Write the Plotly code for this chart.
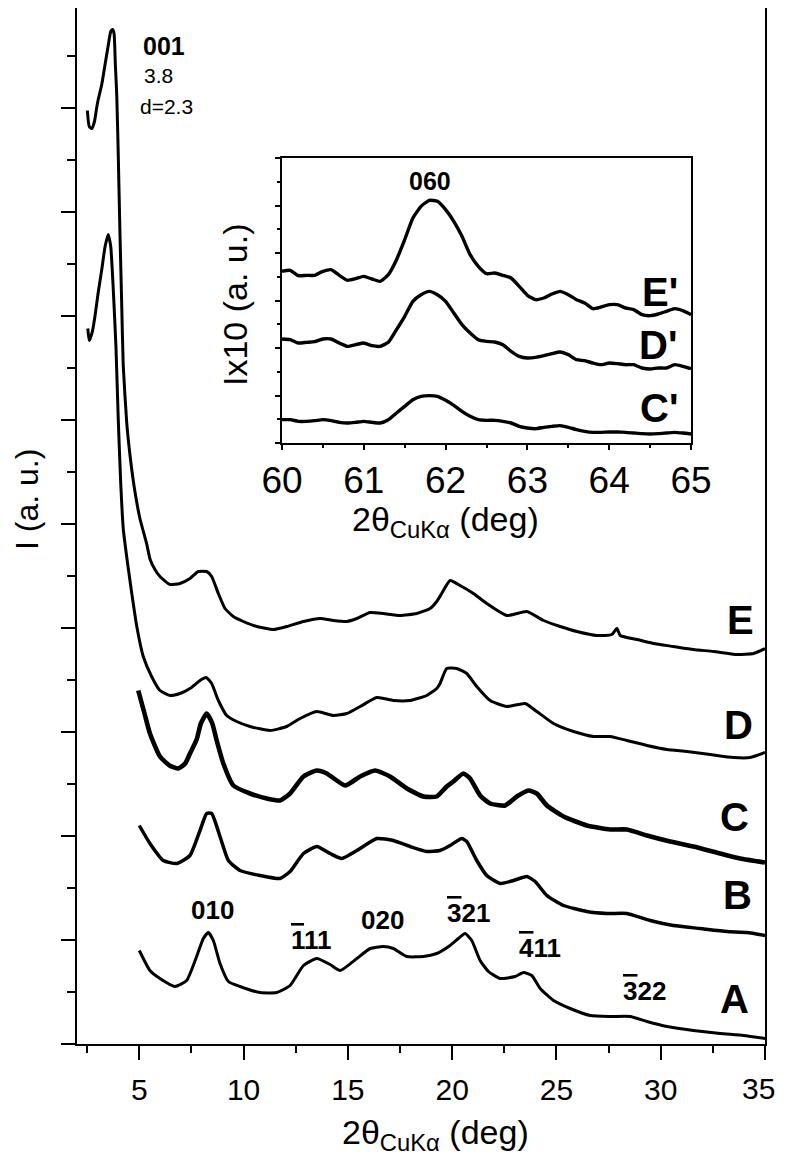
import plotly.graph_objects as go

PAGE_W, PAGE_H = 787, 1163
OX, OY = 8, 8  # default page body margin around the figure div
W, H = PAGE_W - 2 * OX, PAGE_H - 2 * OY  # figure fits the window (no scrollbars)
FONT = "Arial, 'Liberation Sans', sans-serif"

def px(x):
    return min(1.0, max(0.0, (x - OX) / W))

def py(y):
    return min(1.0, max(0.0, 1 - (y - OY) / H))

# ---------------- main pattern data (2theta in deg, intensity in a.u.) ----------------
e_2theta = [2.51, 2.60, 2.72, 2.85, 2.95, 3.03, 3.20, 3.35, 3.51, 3.63, 3.72, 3.79, 3.85, 3.92, 3.99,
            4.07, 4.16, 4.23, 4.40, 4.59, 4.79, 5.03, 5.35, 5.52, 5.75, 5.99, 6.47, 6.95, 7.43, 7.83,
            8.23, 8.47, 8.79, 9.11, 9.51, 9.99, 10.63, 11.43, 12.07, 12.87, 13.67, 14.31, 14.95, 15.43,
            16.06, 16.70, 17.50, 18.30, 18.94, 19.26, 19.50, 19.90, 20.38, 21.02, 21.66, 22.62, 23.58,
            24.38, 25.18, 25.98, 26.94, 27.66, 27.90, 28.06, 28.86, 29.65, 30.61, 31.57, 32.53, 33.65,
            34.45, 35.0]
e_int = [933, 917, 915, 922, 935, 944, 959, 978, 998, 1012, 1014, 1010, 980, 948, 890,
         813, 736, 678, 620, 582, 552, 525, 500, 484, 474, 467, 459, 460, 465, 472,
         472, 467, 450, 435, 427, 422, 417, 414, 417, 422, 425, 423, 422, 425,
         431, 430, 428, 430, 435, 442, 450, 463, 458, 450, 440, 428, 432,
         423, 417, 412, 408, 409, 415, 408, 404, 400, 397, 394, 392, 389,
         390, 395]

d_2theta = [2.53, 2.60, 2.75, 2.88, 3.03, 3.20, 3.36, 3.51, 3.63, 3.75, 3.88, 3.99, 4.11, 4.23, 4.42,
            4.64, 4.88, 5.19, 5.59, 5.99, 6.47, 6.95, 7.43, 7.91, 8.20, 8.47, 8.79, 9.19, 9.67, 10.31,
            11.27, 12.07, 12.71, 13.51, 14.30, 14.95, 15.59, 16.39, 17.18, 17.98, 18.78, 19.26, 19.42,
            19.74, 20.22, 20.70, 21.18, 21.82, 22.62, 23.50, 24.06, 24.86, 25.82, 26.78, 27.58, 28.38,
            29.34, 30.30, 31.26, 32.37, 33.49, 34.29, 35.0]
d_int = [715, 703, 712, 728, 751, 774, 797, 809, 797, 755, 697, 625, 560, 515, 483,
         450, 417, 387, 367, 353, 348, 350, 355, 363, 366, 360, 343, 328, 322, 317,
         313, 317, 325, 332, 328, 330, 337, 346, 343, 343, 348, 355, 360,
         375, 375, 370, 357, 343, 337, 340, 332, 320, 312, 307, 307, 303,
         298, 294, 292, 289, 286, 286, 291]

c_2theta = [4.95, 5.25, 5.51, 5.99, 6.45, 6.87, 7.20, 7.43, 7.75, 7.95, 8.23, 8.50, 8.71, 9.03, 9.51,
            10.31, 11.11, 11.75, 12.23, 12.87, 13.51, 13.99, 14.87, 15.59, 16.31, 17.02, 17.83, 18.62,
            19.26, 19.74, 20.06, 20.54, 20.86, 21.34, 21.82, 22.54, 23.10, 23.66, 24.06, 24.54, 25.34,
            26.46, 27.58, 28.38, 29.34, 30.45, 31.57, 32.85, 33.81, 35.0]
c_int = [353, 330, 310, 287, 278, 275, 280, 290, 304, 320, 330, 320, 303, 280, 258,
         250, 245, 243, 250, 267, 273, 270, 258, 267, 273, 267, 255, 247,
         247, 257, 262, 270, 265, 248, 240, 238, 247, 253, 250, 238, 227,
         218, 214, 214, 208, 202, 197, 190, 185, 181]

b_2theta = [5.00, 5.51, 6.15, 6.79, 7.43, 7.91, 8.23, 8.47, 8.87, 9.27, 9.83, 10.79, 11.75, 12.23,
            12.87, 13.51, 14.15, 14.71, 15.43, 16.39, 17.18, 17.98, 18.78, 19.42, 19.90, 20.46, 20.70,
            21.18, 21.66, 22.30, 22.94, 23.58, 23.98, 24.54, 25.34, 26.46, 27.42, 28.38, 29.49, 30.61,
            31.89, 33.17, 34.13, 35.0]
b_int = [218, 200, 183, 180, 188, 213, 230, 230, 207, 183, 173, 168, 165, 172,
         190, 197, 190, 185, 193, 205, 203, 197, 192, 193, 198, 205, 202,
         183, 168, 160, 163, 167, 162, 148, 138, 132, 130, 130, 123, 118,
         115, 112, 111, 108]

a_2theta = [5.00, 5.51, 5.99, 6.71, 7.27, 7.75, 8.07, 8.31, 8.55, 8.87, 9.27, 9.83, 10.79, 11.59,
            12.23, 12.87, 13.51, 14.15, 14.63, 15.43, 16.07, 16.70, 17.18, 17.83, 18.62, 19.26, 19.90,
            20.30, 20.62, 20.94, 21.34, 21.74, 22.30, 23.02, 23.42, 23.82, 24.22, 24.86, 25.66, 26.62,
            27.58, 28.54, 29.34, 30.30, 31.57, 32.85, 33.97, 35.0]
a_int = [93, 73, 65, 57, 63, 87, 105, 111, 103, 80, 62, 57, 51, 51,
         58, 78, 85, 79, 73, 85, 95, 97, 95, 87, 87, 90, 98,
         105, 110, 103, 83, 72, 65, 67, 71, 68, 55, 43, 35, 28,
         27, 27, 22, 17, 13, 10, 8, 5]

# main x tick labels (the last one is drawn as right-aligned text so it stays inside the window)
x_tickvals = [5, 10, 15, 20, 25, 30, 35]
x_ticktext = ["5", "10", "15", "20", "25", "30", "35"]

# ---------------- inset data (060 reflection, intensity x10) ----------------
inset_2theta = [60.0, 60.1, 60.2, 60.3, 60.4, 60.5, 60.6, 60.7, 60.8, 60.9,
                61.0, 61.1, 61.2, 61.3, 61.4, 61.5, 61.6, 61.7, 61.8, 61.9,
                62.0, 62.1, 62.2, 62.3, 62.4, 62.5, 62.6, 62.7, 62.8, 62.9,
                63.0, 63.1, 63.2, 63.3, 63.4, 63.5, 63.6, 63.7, 63.8, 63.9,
                64.0, 64.1, 64.2, 64.3, 64.4, 64.5, 64.6, 64.7, 64.8, 64.9, 65.0]
ep_int = [515, 518, 502, 503, 503, 515, 520, 503, 488, 493,
          500, 492, 485, 505, 550, 610, 675, 710, 728, 725,
          700, 665, 620, 565, 530, 508, 510, 503, 495, 470,
          443, 430, 435, 447, 455, 445, 430, 420, 403, 408,
          415, 415, 405, 400, 385, 382, 387, 395, 403, 397, 385]
dp_int = [312, 310, 300, 302, 304, 312, 312, 300, 290, 295,
          300, 292, 290, 302, 340, 380, 425, 445, 455, 445,
          425, 390, 355, 330, 310, 305, 303, 295, 275, 260,
          255, 257, 262, 268, 273, 265, 250, 247, 240, 235,
          240, 238, 235, 235, 225, 222, 225, 225, 235, 230, 223]
cp_int = [70, 70, 65, 65, 67, 70, 67, 62, 60, 62,
          65, 62, 60, 70, 90, 110, 130, 140, 142, 140,
          128, 113, 95, 80, 70, 68, 68, 65, 60, 50,
          45, 43, 47, 50, 52, 47, 40, 35, 32, 32,
          33, 33, 32, 30, 28, 27, 28, 30, 32, 30, 27]

main_curves = [("E", e_2theta, e_int, 3.0), ("D", d_2theta, d_int, 3.0), ("C", c_2theta, c_int, 4.6),
               ("B", b_2theta, b_int, 3.5), ("A", a_2theta, a_int, 3.0)]
inset_curves = [("E'", ep_int), ("D'", dp_int), ("C'", cp_int)]

fig = go.Figure()
for name, xs, ys, w in main_curves:
    fig.add_trace(go.Scatter(x=xs, y=ys, mode="lines", name=name, showlegend=False,
                             line=dict(color="black", width=w, shape="spline", smoothing=0.5),
                             xaxis="x", yaxis="y"))
for name, ys in inset_curves:
    fig.add_trace(go.Scatter(x=inset_2theta, y=ys, mode="lines", name=name, showlegend=False,
                             line=dict(color="black", width=3.4, shape="spline", smoothing=0.5),
                             xaxis="x2", yaxis="y2"))

ax_common = dict(showline=True, linecolor="black", linewidth=2, mirror=True, showgrid=False,
                 zeroline=False, tickcolor="black", tickwidth=2, ticks="outside", automargin=False,
                 ticklabeloverflow="allow")

# main y axis: bottom at page y=1043.5, top at page y=8 (body margin) -> range top 1035.5
fig.update_layout(
    width=W, height=H, margin=dict(l=0, r=0, t=0, b=0, pad=0, autoexpand=False),
    paper_bgcolor="white", plot_bgcolor="white",
    font=dict(family=FONT, color="black"),
    showlegend=False,
    xaxis=dict(domain=[px(77), px(765)], range=[2.013, 35.0], anchor="y", ticklen=14,
               tickmode="array", tickvals=x_tickvals, ticktext=x_ticktext[:-1] + [""],
               tickfont=dict(size=30, family=FONT), ticklabelstandoff=4,
               minor=dict(ticks="outside", ticklen=7, dtick=2.5, tick0=0, tickwidth=2, tickcolor="black"),
               **ax_common),
    yaxis=dict(domain=[py(1043.5), py(8)], range=[0, 1035.5], anchor="x", ticklen=14,
               dtick=103.9, tick0=0, showticklabels=False,
               minor=dict(ticks="outside", ticklen=8, dtick=51.95, tick0=0, tickwidth=2, tickcolor="black"),
               **ax_common),
    xaxis2=dict(domain=[px(282), px(691)], range=[60, 65], anchor="y2", ticklen=5,
                dtick=1, tick0=0, tickfont=dict(size=37, family=FONT), ticklabelstandoff=-1,
                minor=dict(ticks="outside", ticklen=3, dtick=0.5, tick0=0, tickwidth=2, tickcolor="black"),
                **ax_common),
    yaxis2=dict(domain=[py(443), py(158)], range=[0, 855], anchor="x2", ticklen=5,
                dtick=142.5, tick0=0, showticklabels=False,
                minor=dict(ticks="outside", ticklen=3, dtick=71.25, tick0=0, tickwidth=2, tickcolor="black"),
                **ax_common),
)

def ann(text, x, y, size, xref="x", yref="y", xanchor="center", bold=True, angle=0, xshift=0):
    t = f"<b>{text}</b>" if bold else text
    fig.add_annotation(text=t, x=x, y=y, xref=xref, yref=yref, showarrow=False,
                       xanchor=xanchor, yanchor="middle", textangle=angle, xshift=xshift,
                       font=dict(size=size, family=FONT, color="black"))

# last x tick label, kept right-aligned against the window edge
ann(x_ticktext[-1], x_tickvals[-1], py(1088), 30, yref="paper", xanchor="right", bold=False, xshift=12)

# 001 reflection note
ann("001", 5.08, 997.5, 25, xanchor="left")
ann("3.8", 5.12, 968, 21, xanchor="left", bold=False)
ann("d=2.3", 4.94, 937, 21, xanchor="left", bold=False)

# sample labels
for lab, x, y in [("E", 33.83, 423.5), ("D", 33.73, 319), ("C", 33.56, 227), ("B", 33.68, 148.5), ("A", 33.56, 44.5)]:
    ann(lab, x, y, 40)

# hkl labels
OL = '<span style="text-decoration:overline">{}</span>'
ann("010", 8.51, 133.5, 26)
ann(OL.format("1") + "11", 13.26, 103.5, 26)
ann("020", 16.66, 123.5, 26)
ann(OL.format("3") + "21", 20.76, 131, 26)
ann(OL.format("4") + "11", 24.21, 95.5, 26)
ann(OL.format("3") + "22", 29.20, 52.5, 26)

# inset labels
ann("060", 61.815, 785.5, 25, xref="x2", yref="y2")
ann("E'", 64.62, 454, 40, xref="x2", yref="y2")
ann("D'", 64.60, 295, 40, xref="x2", yref="y2")
ann("C'", 64.61, 106, 40, xref="x2", yref="y2")

# axis titles
ann("2θ<sub>CuKα</sub> (deg)", px(435), py(1134), 34, xref="paper", yref="paper", bold=False)
ann("I (a. u.)", px(27), py(500), 32, xref="paper", yref="paper", bold=False, angle=-90)
ann("2θ<sub>CuKα</sub> (deg)", px(445), py(521), 34, xref="paper", yref="paper", bold=False)
ann("Ix10 (a. u.)", px(235), py(305), 34, xref="paper", yref="paper", bold=False, angle=-90)

fig.write_html("out.html")
